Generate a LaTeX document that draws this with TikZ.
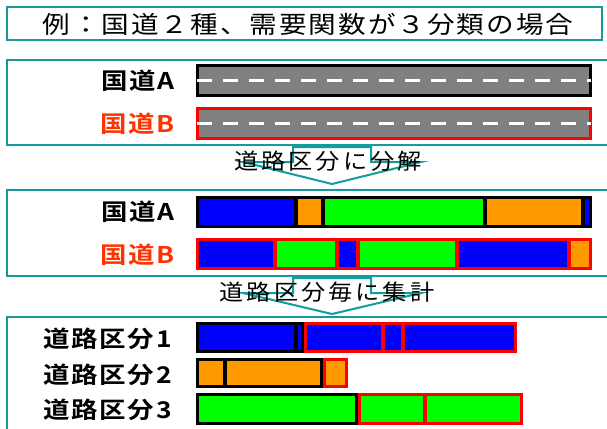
\documentclass[tikz,border=0pt]{standalone}
\usepackage{fontspec}
\newfontfamily\jp{Noto Sans CJK JP}[FakeStretch=1.15]
\newfontfamily\jpa{Noto Sans CJK JP}[FakeStretch=1.1]
\newfontfamily\jpb{Noto Sans CJK JP Bold}[FakeStretch=1.15]
\definecolor{tealc}{RGB}{20,155,155}
\definecolor{roadgray}{RGB}{128,128,128}
\definecolor{lblred}{RGB}{255,50,0}
\definecolor{segblue}{RGB}{0,0,255}
\definecolor{segorange}{RGB}{255,153,0}
\definecolor{seggreen}{RGB}{0,255,0}
\definecolor{segred}{RGB}{255,0,0}
\newdimen\ls
\def\spaced#1{\spacedi#1\relax\unkern}
\def\spacedi#1{\ifx#1\relax\else#1\kern\ls\expandafter\spacedi\fi}
\newcommand\ttlfont{\jp\fontsize{24}{24}\selectfont\setlength\ls{2pt}}
\newcommand\lblfont{\jpb\fontsize{23}{23}\selectfont\setlength\ls{1.8pt}}
\newcommand\arrfont{\jpa\fontsize{22}{22}\selectfont\setlength\ls{3pt}}
\newcommand\hb{1.7}
% fills a piece of a bar
\newcommand\seg[5]{\fill[#5] (#1,#3) rectangle (#2,#4);}
% outline of a group of pieces
\newcommand\outl[5]{\draw[#5,line width=3.4pt] (#1+\hb,#3+\hb) rectangle (#2-\hb,#4-\hb);}
\newcommand\sepl[4]{\draw[#4,line width=3.4pt] (#1,#2) -- (#1,#3);}
\newcommand\road[3]{%
  \fill[roadgray] (196,#1) rectangle (592,#2);
  \draw[#3,line width=3.4pt] (196+\hb,#1+\hb) rectangle (592-\hb,#2-\hb);
  \draw[white,line width=3.5pt,dash pattern=on 15pt off 11pt] (197,{(#1+#2)/2}) -- (591,{(#1+#2)/2});}
\begin{document}
\begin{tikzpicture}[x=1pt,y=-1pt,
  panel/.style={draw=tealc,line width=2pt},
  lbl/.style={anchor=east,inner sep=0pt,font=\lblfont},
  arrtxt/.style={inner sep=0pt,font=\arrfont},
  blockarrow/.style={draw=tealc,fill=white,line width=2pt,line join=miter}]
\useasboundingbox[fill=white] (0,0) rectangle (607,428);

% title
\draw[panel,line width=2.5pt] (7,7) rectangle (602,40);
\node[inner sep=0pt,font=\ttlfont] (title) at (308,24) {\spaced{例：国道２種、需要関数が３分類の場合}};

% panels
\draw[panel] (7,60) rectangle (612,145);
\draw[panel] (7,190) rectangle (612,276);
\draw[panel] (7,317) rectangle (612,440);

% panel 1 : roads
\road{64}{97}{black}
\road{107}{140}{segred}
\node[lbl] (la1) at (175,81) {\spaced{国道A}};
\node[lbl,text=lblred] (lb1) at (175,124) {\spaced{国道B}};

% arrow 1
\draw[blockarrow] (293,147) -- (371,147) -- (371,162) -- (421,162) -- (332,184) -- (243,162) -- (293,162) -- cycle;
\node[arrtxt] (t1) at (328,161) {\spaced{道路区分に分解}};

% panel 2 : split roads
\seg{196}{296}{196}{228}{segblue}
\seg{296}{323}{196}{228}{segorange}
\seg{323}{485}{196}{228}{seggreen}
\seg{485}{583}{196}{228}{segorange}
\seg{583}{592}{196}{228}{segblue}
\foreach \s in {296,323,485,583} {\sepl{\s}{196}{228}{black}}
\outl{196}{592}{196}{228}{black}

\seg{196}{275}{238}{270}{segblue}
\seg{275}{337}{238}{270}{seggreen}
\seg{337}{358}{238}{270}{segblue}
\seg{358}{457}{238}{270}{seggreen}
\seg{457}{569}{238}{270}{segblue}
\seg{569}{592}{238}{270}{segorange}
\foreach \s in {275,337,358,457,569} {\sepl{\s}{238}{270}{segred}}
\outl{196}{592}{238}{270}{segred}

\node[lbl] (la2) at (175,212) {\spaced{国道A}};
\node[lbl,text=lblred] (lb2) at (175,255) {\spaced{国道B}};

% arrow 2
\draw[blockarrow] (293,278) -- (371,278) -- (371,293) -- (421,293) -- (332,314) -- (243,293) -- (293,293) -- cycle;
\node[arrtxt] (t2) at (327,292) {\spaced{道路区分毎に集計}};

% panel 3 : aggregated
\seg{196}{304}{322}{353}{segblue}
\sepl{296}{322}{353}{black}
\outl{196}{304}{322}{353}{black}
\seg{304}{517}{322}{353}{segblue}
\sepl{383}{322}{353}{segred}
\sepl{403}{322}{353}{segred}
\outl{304}{517}{322}{353}{segred}

\seg{196}{323}{358}{388}{segorange}
\sepl{225}{358}{388}{black}
\outl{196}{323}{358}{388}{black}
\seg{323}{348}{358}{388}{segorange}
\outl{323}{348}{358}{388}{segred}

\seg{196}{358}{393}{425}{seggreen}
\outl{196}{358}{393}{425}{black}
\seg{358}{523}{393}{425}{seggreen}
\sepl{425}{393}{425}{segred}
\outl{358}{523}{393}{425}{segred}

\node[lbl] (r1) at (172,339) {\spaced{道路区分1}};
\node[lbl] (r2) at (172,375) {\spaced{道路区分2}};
\node[lbl] (r3) at (172,410) {\spaced{道路区分3}};
\end{tikzpicture}
\end{document}
